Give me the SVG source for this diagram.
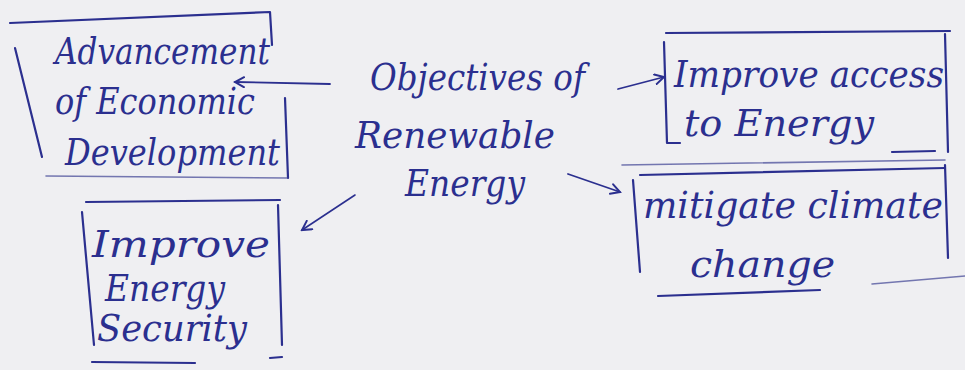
<svg xmlns="http://www.w3.org/2000/svg" width="965" height="370" viewBox="0 0 965 370">
<defs>
<style>
.ink{fill:none;stroke:#2b2f8f;stroke-width:2.2;stroke-linecap:round;stroke-linejoin:round}
.faint{fill:none;stroke:#4a4e9a;stroke-width:1.6;stroke-linecap:round;opacity:0.75}
.t{font-family:"DejaVu Serif","Liberation Serif",serif;font-style:italic;fill:#2b2f8f;font-size:37px}
</style>
<marker id="ah" viewBox="0 0 12 12" refX="10" refY="6" markerWidth="12" markerHeight="12" markerUnits="userSpaceOnUse" orient="auto">
<path d="M1,1 L10,6 L1,11" fill="none" stroke="#2b2f8f" stroke-width="2" stroke-linecap="round"/>
</marker>
</defs>
<rect width="965" height="370" fill="#efeff2"/>

<g id="node-economic">
<path class="ink" d="M10,23 L270,12 L272,45"/>
<path class="ink" d="M15,48 L42,157"/>
<path class="ink" d="M285,98 L288,178"/>
<path class="faint" d="M46,176 L287,178"/>
<text class="t" x="55" y="64" textLength="215" lengthAdjust="spacingAndGlyphs">Advancement</text>
<text class="t" x="55" y="114" textLength="200" lengthAdjust="spacingAndGlyphs">of Economic</text>
<text class="t" x="65" y="165" textLength="215" lengthAdjust="spacingAndGlyphs">Development</text>
</g>

<g id="node-objectives">
<text class="t" x="370" y="90" textLength="215" lengthAdjust="spacingAndGlyphs">Objectives of</text>
<text class="t" x="355" y="148" textLength="200" lengthAdjust="spacingAndGlyphs">Renewable</text>
<text class="t" x="405" y="196" textLength="120" lengthAdjust="spacingAndGlyphs">Energy</text>
</g>

<g id="node-access">
<path class="ink" d="M666,33 L950,31"/>
<path class="ink" d="M664,42 L667,143 L680,143"/>
<path class="ink" d="M945,34 L948,152"/>
<path class="ink" d="M892,152 L935,151"/>
<path class="faint" d="M622,165 L945,160"/>
<text class="t" x="674" y="87" textLength="270" lengthAdjust="spacingAndGlyphs">Improve access</text>
<text class="t" x="684" y="136" textLength="190" lengthAdjust="spacingAndGlyphs">to Energy</text>
</g>

<g id="node-security">
<path class="ink" d="M86,202 L280,200"/>
<path class="ink" d="M82,212 L94,345"/>
<path class="ink" d="M278,205 L282,345"/>
<path class="ink" d="M92,362 L195,363"/>
<path class="ink" d="M270,358 L282,357"/>
<text class="t" x="92" y="257" textLength="178" lengthAdjust="spacingAndGlyphs">Improve</text>
<text class="t" x="105" y="301" textLength="120" lengthAdjust="spacingAndGlyphs">Energy</text>
<text class="t" x="97" y="341" textLength="150" lengthAdjust="spacingAndGlyphs">Security</text>
</g>

<g id="node-climate">
<path class="ink" d="M640,175 L945,168"/>
<path class="ink" d="M633,180 L640,272"/>
<path class="ink" d="M945,165 L948,258"/>
<path class="ink" d="M658,296 L820,290"/>
<path class="faint" d="M872,284 L965,276"/>
<text class="t" x="643" y="218" textLength="300" lengthAdjust="spacingAndGlyphs">mitigate climate</text>
<text class="t" x="690" y="277" textLength="145" lengthAdjust="spacingAndGlyphs">change</text>
</g>

<g id="connectors">
<path class="ink" d="M330,84 L235,82" marker-end="url(#ah)" style="stroke-width:1.8"/>
<path class="ink" d="M618,89 L664,77" marker-end="url(#ah)" style="stroke-width:1.8"/>
<path class="ink" d="M355,195 L302,230" marker-end="url(#ah)" style="stroke-width:1.6"/>
<path class="ink" d="M568,174 L620,192" marker-end="url(#ah)" style="stroke-width:1.8"/>
</g>
</svg>
